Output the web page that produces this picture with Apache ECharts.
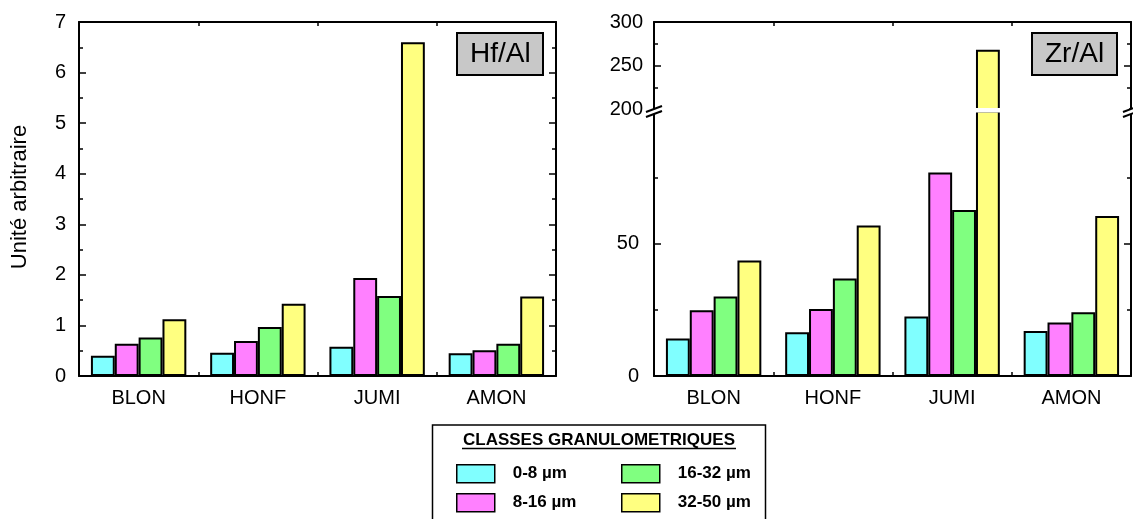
<!DOCTYPE html>
<html>
<head>
<meta charset="utf-8">
<script src="https://cdn.jsdelivr.net/npm/echarts@6/dist/echarts.min.js"></script>
<style>html,body{margin:0;padding:0;background:#fff;}#c{width:1133px;height:519px;}</style>
</head>
<body>
<div id="c"></div>
<script>
// ---- data ----
const categories = ['BLON', 'HONF', 'JUMI', 'AMON'];
const classes = ['0-8 µm', '8-16 µm', '16-32 µm', '32-50 µm'];
const colors = ['#80ffff', '#ff80ff', '#80ff80', '#ffff80'];
// Hf/Al
const hf_0_8   = [0.40, 0.46, 0.58, 0.45];
const hf_8_16  = [0.64, 0.69, 1.94, 0.51];
const hf_16_32 = [0.76, 0.97, 1.58, 0.64];
const hf_32_50 = [1.12, 1.43, 6.60, 1.57];
// Zr/Al
const zr_0_8   = [14.2, 16.5, 22.5, 17.0];
const zr_8_16  = [24.9, 25.3, 76.9, 20.2];
const zr_16_32 = [30.1, 36.9, 62.8, 24.1];
const zr_32_50 = [43.7, 56.9, 268, 60.5];
// axis ranges / ticks
const hfAxis = {min: 0, max: 7, interval: 1};
const zrLowAxis = {min: 0, max: 100, interval: 50};
const zrHighAxis = {min: 200, max: 300, interval: 50};

const FONT = '"Liberation Sans", Arial, Helvetica, sans-serif';
const hfSeries = [hf_0_8, hf_8_16, hf_16_32, hf_32_50];
const zrSeries = [zr_0_8, zr_8_16, zr_16_32, zr_32_50];
const BREAK_HIGH = zrHighAxis.min;

const chart = echarts.init(document.getElementById('c'), null, {renderer: 'canvas'});

const lineStyle = {color: '#000', width: 2};
const tickStyle = {color: '#000', width: 1.5};

function xBottom(grid, showLabel) {
  return {
    type: 'category', gridIndex: grid, data: categories, position: 'bottom',
    boundaryGap: true,
    axisLine: {show: true, onZero: false, lineStyle: lineStyle},
    axisTick: {show: true, inside: true, length: 4, alignWithLabel: false, lineStyle: tickStyle},
    axisLabel: {show: showLabel, fontSize: 20, color: '#000', fontFamily: FONT, margin: 12},
    splitLine: {show: false}
  };
}
function xTop(grid) {
  return {
    type: 'category', gridIndex: grid, data: categories, position: 'top',
    boundaryGap: true,
    axisLine: {show: true, onZero: false, lineStyle: lineStyle},
    axisTick: {show: true, inside: true, length: 4, alignWithLabel: false, lineStyle: tickStyle},
    axisLabel: {show: false},
    splitLine: {show: false}
  };
}
function yAx(grid, rng, pos, showLabel, margin, hideMax) {
  return {
    type: 'value', gridIndex: grid, position: pos,
    min: rng.min, max: rng.max, interval: rng.interval,
    axisLine: {show: true, onZero: false, lineStyle: lineStyle},
    axisTick: {show: true, inside: true, length: 7, lineStyle: tickStyle},
    minorTick: {show: true, splitNumber: 2, length: 4, lineStyle: tickStyle},
    axisLabel: {show: showLabel, fontSize: 20, color: '#000', fontFamily: FONT, margin: margin,
      showMaxLabel: !hideMax},
    splitLine: {show: false}, minorSplitLine: {show: false}
  };
}

const series = [];
classes.forEach((name, i) => {
  const base = {
    type: 'bar', name: name, barGap: '0%', barCategoryGap: '20%',
    itemStyle: {color: colors[i], borderColor: '#000', borderWidth: 2},
    clip: true, emphasis: {disabled: true}
  };
  series.push(Object.assign({}, base, {xAxisIndex: 0, yAxisIndex: 0, data: hfSeries[i]}));
  series.push(Object.assign({}, base, {xAxisIndex: 2, yAxisIndex: 2, data: zrSeries[i]}));
  series.push(Object.assign({}, base, {xAxisIndex: 3, yAxisIndex: 4,
    data: zrSeries[i].map(v => v >= BREAK_HIGH ? v : '-')}));
});

const boxTitle = (txt, left) => ({
  text: txt, left: left, top: 33,
  padding: [7, 13, 7, 13],
  backgroundColor: '#c8c8c8', borderColor: '#000', borderWidth: 2,
  textStyle: {fontSize: 28, fontWeight: 'normal', color: '#000', fontFamily: FONT}
});

// legend: one component per class, laid out in a 2x2 grid
const legendPos = [[456, 464], [456, 493], [621, 464], [621, 493]];
const legends = classes.map((name, i) => ({
  left: legendPos[i][0], top: legendPos[i][1], padding: 0,
  itemWidth: 38, itemHeight: 18, icon: 'rect', selectedMode: false,
  itemStyle: {borderColor: '#000', borderWidth: 1.5},
  textStyle: {fontSize: 17, fontWeight: 'bold', color: '#000', fontFamily: FONT, padding: [0, 0, 0, 13]},
  data: [name]
}));

const option = {
  animation: false,
  backgroundColor: '#fff',
  title: [boxTitle('Hf/Al', 457), boxTitle('Zr/Al', 1032)],
  legend: legends,
  grid: [
    {left: 79, top: 22, width: 477, height: 354},
    {left: 654, top: 111.5, width: 477, height: 264.5},
    {left: 654, top: 22, width: 477, height: 87}
  ],
  xAxis: [xBottom(0, true), xTop(0), xBottom(1, true), xTop(2)],
  yAxis: [
    yAx(0, hfAxis, 'left', true, 13, false),
    yAx(0, hfAxis, 'right', false, 8, false),
    yAx(1, zrLowAxis, 'left', true, 15, true),
    yAx(1, zrLowAxis, 'right', false, 8, true),
    yAx(2, zrHighAxis, 'left', true, 11, false),
    yAx(2, zrHighAxis, 'right', false, 8, false)
  ],
  series: series,
  graphic: [
    {type: 'text', x: 20, y: 197, rotation: Math.PI / 2, z: 50,
      style: {text: 'Unité arbitraire', fontSize: 22, fontFamily: FONT, fill: '#000', align: 'center', verticalAlign: 'middle'}},
    // white gap across broken bar
    {type: 'rect', z: 50, shape: {x: 656, y: 108, width: 473, height: 4.5}, style: {fill: '#fff'}},
    // break marks left axis
    {type: 'polygon', z: 51, shape: {points: [[646, 112], [662, 106], [662, 111], [646, 117]]}, style: {fill: '#fff'}},
    {type: 'line', z: 52, shape: {x1: 646, y1: 112, x2: 662, y2: 106}, style: {stroke: '#000', lineWidth: 2}},
    {type: 'line', z: 52, shape: {x1: 646, y1: 117, x2: 662, y2: 111}, style: {stroke: '#000', lineWidth: 2}},
    // break marks right axis
    {type: 'polygon', z: 51, shape: {points: [[1123, 112], [1139, 106], [1139, 111], [1123, 117]]}, style: {fill: '#fff'}},
    {type: 'line', z: 52, shape: {x1: 1123, y1: 112, x2: 1139, y2: 106}, style: {stroke: '#000', lineWidth: 2}},
    {type: 'line', z: 52, shape: {x1: 1123, y1: 117, x2: 1139, y2: 111}, style: {stroke: '#000', lineWidth: 2}},
    // legend frame
    {type: 'rect', z: 1, shape: {x: 432.5, y: 425, width: 333, height: 100}, style: {fill: 'none', stroke: '#000', lineWidth: 1.5}},
    {type: 'text', x: 599, y: 440, z: 50,
      style: {text: 'CLASSES GRANULOMETRIQUES', fontSize: 17, fontWeight: 'bold', fontFamily: FONT, fill: '#000', align: 'center', verticalAlign: 'middle'}},
    {type: 'line', z: 50, shape: {x1: 462, y1: 448.5, x2: 736, y2: 448.5}, style: {stroke: '#000', lineWidth: 1.5}}
  ]
};
chart.setOption(option);
</script>
</body>
</html>
